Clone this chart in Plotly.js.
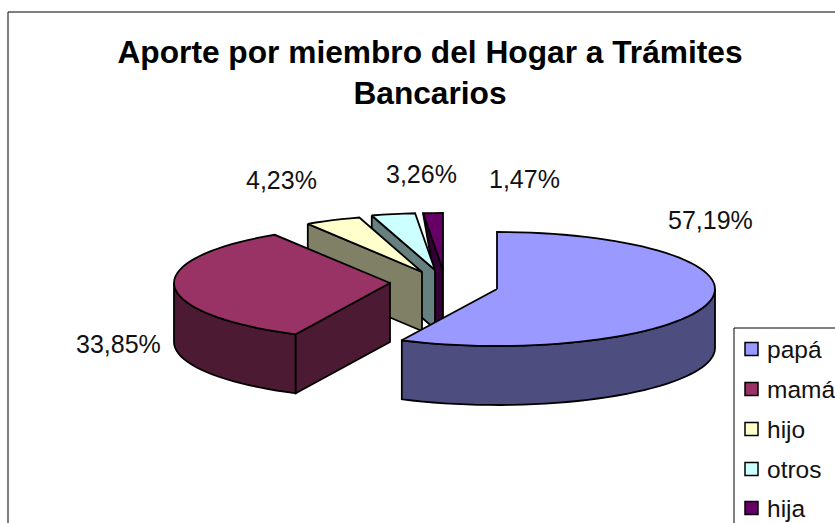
<!DOCTYPE html>
<html>
<head>
<meta charset="utf-8">
<script src="https://cdn.plot.ly/plotly-3.0.1.min.js"></script>
<style>html,body{margin:0;padding:0;background:#fff;overflow:hidden}#c{width:835px;height:523px}</style>
</head>
<body>
<div id="c"></div>
<script>
// --- data ---
const categories = ['papá', 'mamá', 'hijo', 'otros', 'hija'];
const percents = [57.19, 33.85, 4.23, 3.26, 1.47];
// --- styles ---
const topColors = ['#9999FF', '#993366', '#FFFFCC', '#CCFFFF', '#660066'];
const sideColors = ['#4D4D80', '#4D1A33', '#808066', '#668080', '#330033'];
// exploded slice apexes on the page-sized axes
const apexX = [497, 390, 422, 435, 443];
const apexY = [289, 283, 272, 270, 270];
const radiusX = [218, 216, 214, 216, 216];
const labelX = [710, 118, 281, 421, 524];
const labelY = [220, 344, 180, 174, 179];
const legendY = [349, 389, 429, 469, 508];
const ry = 57, depth = 59;
const FONT = 'Liberation Sans, Arial, sans-serif';
const LW = 1.8;

const rad = d => d * Math.PI / 180;
const px = (i, a) => apexX[i] + radiusX[i] * Math.sin(rad(a));
const py = (i, a) => apexY[i] - ry * Math.cos(rad(a));

const starts = [], ends = [];
percents.reduce((acc, v, i) => {
  starts[i] = acc; ends[i] = acc + v * 3.6; return ends[i];
}, 0);

function arc(i, a0, a1) {
  const n = Math.max(2, Math.ceil(Math.abs(a1 - a0) / 3));
  const xs = [], ys = [];
  for (let k = 0; k <= n; k++) {
    const a = a0 + (a1 - a0) * k / n;
    xs.push(px(i, a)); ys.push(py(i, a));
  }
  return [xs, ys];
}
function poly(xs, ys, color) {
  return {
    type: 'scatter', mode: 'lines', x: xs.concat(xs[0]), y: ys.concat(ys[0]),
    fill: 'toself', fillcolor: color,
    line: { color: '#000', width: LW, simplify: false },
    hoverinfo: 'skip', showlegend: false
  };
}
function topFace(i) {
  const [xs, ys] = arc(i, starts[i], ends[i]);
  return poly([apexX[i]].concat(xs), [apexY[i]].concat(ys), topColors[i]);
}
// radial wall at the slice's starting edge
function wall(i, inset) {
  const a = starts[i], rimX = px(i, a), rimY = py(i, a);
  const ax = apexX[i], ay = apexY[i];
  if (inset) {
    return poly([rimX, ax, ax, ax - inset, ax - inset],
      [rimY, ay, ay + depth, ay + depth, ay], sideColors[i]);
  }
  return poly([rimX, ax, ax, rimX], [rimY, ay, ay + depth, rimY + depth], sideColors[i]);
}
function rimSide(i, a0, a1) {
  const [xs, ys] = arc(i, a0, a1);
  return poly(xs.concat(xs.slice().reverse()),
    ys.concat(ys.slice().reverse().map(v => v + depth)), sideColors[i]);
}

const traces = [
  wall(4, 10), topFace(4),
  wall(3), topFace(3),
  wall(2), topFace(2),
  rimSide(0, 90, ends[0]), topFace(0),
  rimSide(1, starts[1], 270), wall(1), topFace(1)
];

const fmt = v => v.toFixed(2).replace('.', ',') + '%';
const annotations = percents.map((v, i) => ({
  x: labelX[i], y: labelY[i], xref: 'x', yref: 'y', text: fmt(v), showarrow: false,
  xanchor: 'center', yanchor: 'middle', font: { family: FONT, size: 25, color: '#111' }
})).concat(categories.map((c, i) => ({
  x: 765, y: legendY[i], xref: 'x', yref: 'y', text: c, showarrow: false,
  xanchor: 'left', yanchor: 'middle', font: { family: FONT, size: 24.5, color: '#111' }
})));

const shapes = [
  { type: 'rect', xref: 'x', yref: 'y', x0: 8, y0: 12, x1: 845, y1: 540,
    line: { color: '#000', width: 1 }, fillcolor: 'rgba(0,0,0,0)', layer: 'above' },
  { type: 'rect', xref: 'x', yref: 'y', x0: 734, y0: 328, x1: 845, y1: 540,
    line: { color: '#000', width: 1 }, fillcolor: '#fff' }
].concat(categories.map((c, i) => ({
  type: 'rect', xref: 'x', yref: 'y', x0: 745, x1: 758,
  y0: legendY[i] - 6.5, y1: legendY[i] + 6.5,
  line: { color: '#000', width: 1.5 }, fillcolor: topColors[i]
})));

Plotly.newPlot('c', traces, {
  width: 835, height: 523,
  margin: { l: 0, r: 0, t: 0, b: 0 },
  paper_bgcolor: '#fff', plot_bgcolor: '#fff',
  showlegend: false,
  title: {
    text: 'Aporte por miembro del Hogar a Trámites<br>Bancarios',
    x: 430 / 835, xanchor: 'center', y: 0.88, yanchor: 'middle',
    font: { family: FONT, size: 31.7, color: '#000', weight: 700 }
  },
  xaxis: { range: [0, 835], visible: false, fixedrange: true },
  yaxis: { range: [523, 0], visible: false, fixedrange: true },
  annotations, shapes
}, { displayModeBar: false, staticPlot: true });
</script>
</body>
</html>
